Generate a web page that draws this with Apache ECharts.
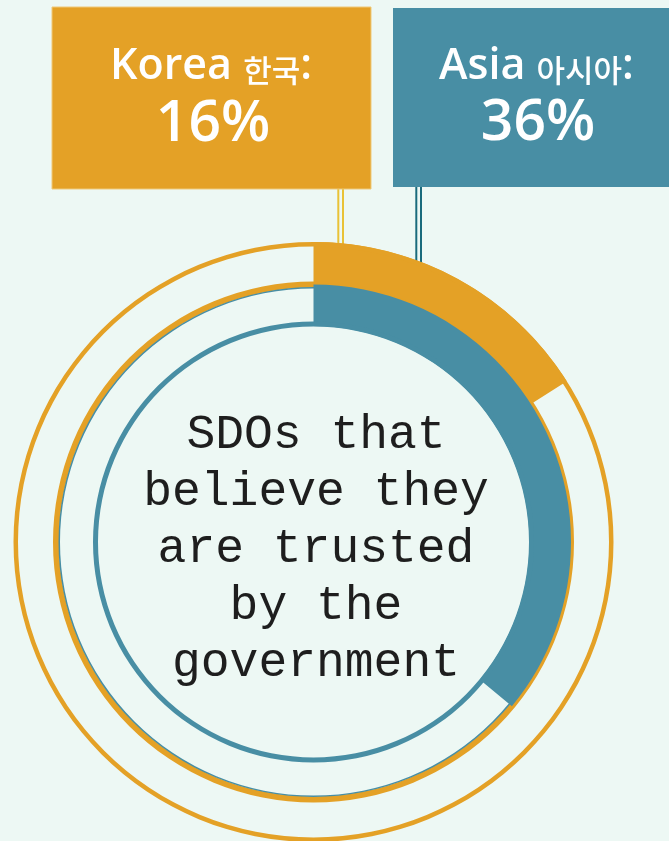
<!DOCTYPE html>
<html><head><meta charset="utf-8">
<script src="https://cdn.jsdelivr.net/npm/echarts@6/dist/echarts.min.js"></script>
<style>html,body{margin:0;padding:0;background:#edf8f4;} #c{width:669px;height:841px;}</style>
</head><body><div id="c"></div>
<script>
const regions = ['Korea', 'Asia'];
const regionsKo = ['한국', '아시아'];
const shares = [16, 36];
const centerLines = ['SDOs that', 'believe they', 'are trusted', 'by the', 'government'];

const ORANGE = '#e4a126', BLUE = '#488ea4', BG = '#edf8f4';
const CX = 313.5, CY = 542;

function outline(r0, r1, color, z) {
  return { type: 'pie', center: [CX, CY], radius: [r0, r1], silent: true, z: z,
    label: { show: false }, labelLine: { show: false }, animation: false,
    itemStyle: { borderWidth: 0 },
    data: [{ value: 1, itemStyle: { color: color } }] };
}
function dataRing(r0, r1, idx, color, z) {
  return { type: 'pie', center: [CX, CY], radius: [r0, r1], silent: true, z: z,
    startAngle: 90, clockwise: true, animation: false,
    label: { show: false }, labelLine: { show: false },
    itemStyle: { borderWidth: 0 },
    data: [{ value: shares[idx], name: regions[idx], itemStyle: { color: color } },
           { value: 100 - shares[idx], name: 'rest', itemStyle: { color: 'rgba(0,0,0,0)' } }] };
}

const rich = {
  en: { fontFamily: 'Open Sans', fontWeight: 600, fontSize: 43, fill: '#fff', color: '#fff' },
  ko: { fontFamily: 'Noto Sans CJK KR', fontWeight: 500, fontSize: 31, fill: '#fff', color: '#fff', padding: [6, 0, 0, 0] }
};

const chart = echarts.init(document.getElementById('c'), null, { renderer: 'canvas' });
chart.setOption({
  backgroundColor: BG,
  animation: false,
  series: [
    outline(254.5, 260.5, ORANGE, 1),
    outline(253.5, 255, BLUE, 1),
    dataRing(259, 300, 0, ORANGE, 2),
    outline(295.5, 300, ORANGE, 2),
    dataRing(216, 257.5, 1, BLUE, 2),
    outline(215.5, 220.5, BLUE, 3)
  ],
  graphic: [
    { type: 'line', z: -1, shape: { x1: 338.3, y1: 189, x2: 338.3, y2: 246 }, style: { stroke: '#e9c236', lineWidth: 2 } },
    { type: 'line', z: -1, shape: { x1: 343, y1: 189, x2: 343, y2: 246 }, style: { stroke: '#e9c236', lineWidth: 2 } },
    { type: 'line', z: -1, shape: { x1: 416.3, y1: 187, x2: 416.3, y2: 264 }, style: { stroke: '#1a6b7c', lineWidth: 2 } },
    { type: 'line', z: -1, shape: { x1: 421, y1: 187, x2: 421, y2: 264 }, style: { stroke: '#1a6b7c', lineWidth: 2 } },
    { type: 'rect', shape: { x: 52, y: 7, width: 319, height: 182 }, style: { fill: ORANGE, stroke: '#efc978', lineWidth: 1 } },
    { type: 'rect', shape: { x: 393, y: 8, width: 290, height: 179 }, style: { fill: BLUE } },
    { type: 'text', x: 211, y: 67, style: { text: '{en|' + regions[0] + ' }{ko|' + regionsKo[0] + '}{en|:}', rich: rich, align: 'center', verticalAlign: 'middle', fill: '#fff' } },
    { type: 'text', x: 213, y: 125, style: { text: shares[0] + '%', font: '600 57px "Open Sans"', align: 'center', verticalAlign: 'middle', fill: '#fff' } },
    { type: 'text', x: 536.5, y: 67, style: { text: '{en|' + regions[1] + ' }{ko|' + regionsKo[1] + '}{en|:}', rich: rich, align: 'center', verticalAlign: 'middle', fill: '#fff' } },
    { type: 'text', x: 538, y: 124, style: { text: shares[1] + '%', font: '600 57px "Open Sans"', align: 'center', verticalAlign: 'middle', fill: '#fff' } },
    { type: 'text', x: 316, y: 549, style: { text: centerLines.join('\n'), font: '48px "Liberation Mono"', lineHeight: 57, align: 'center', verticalAlign: 'middle', fill: '#1e1e1e' } }
  ]
});
</script></body></html>
